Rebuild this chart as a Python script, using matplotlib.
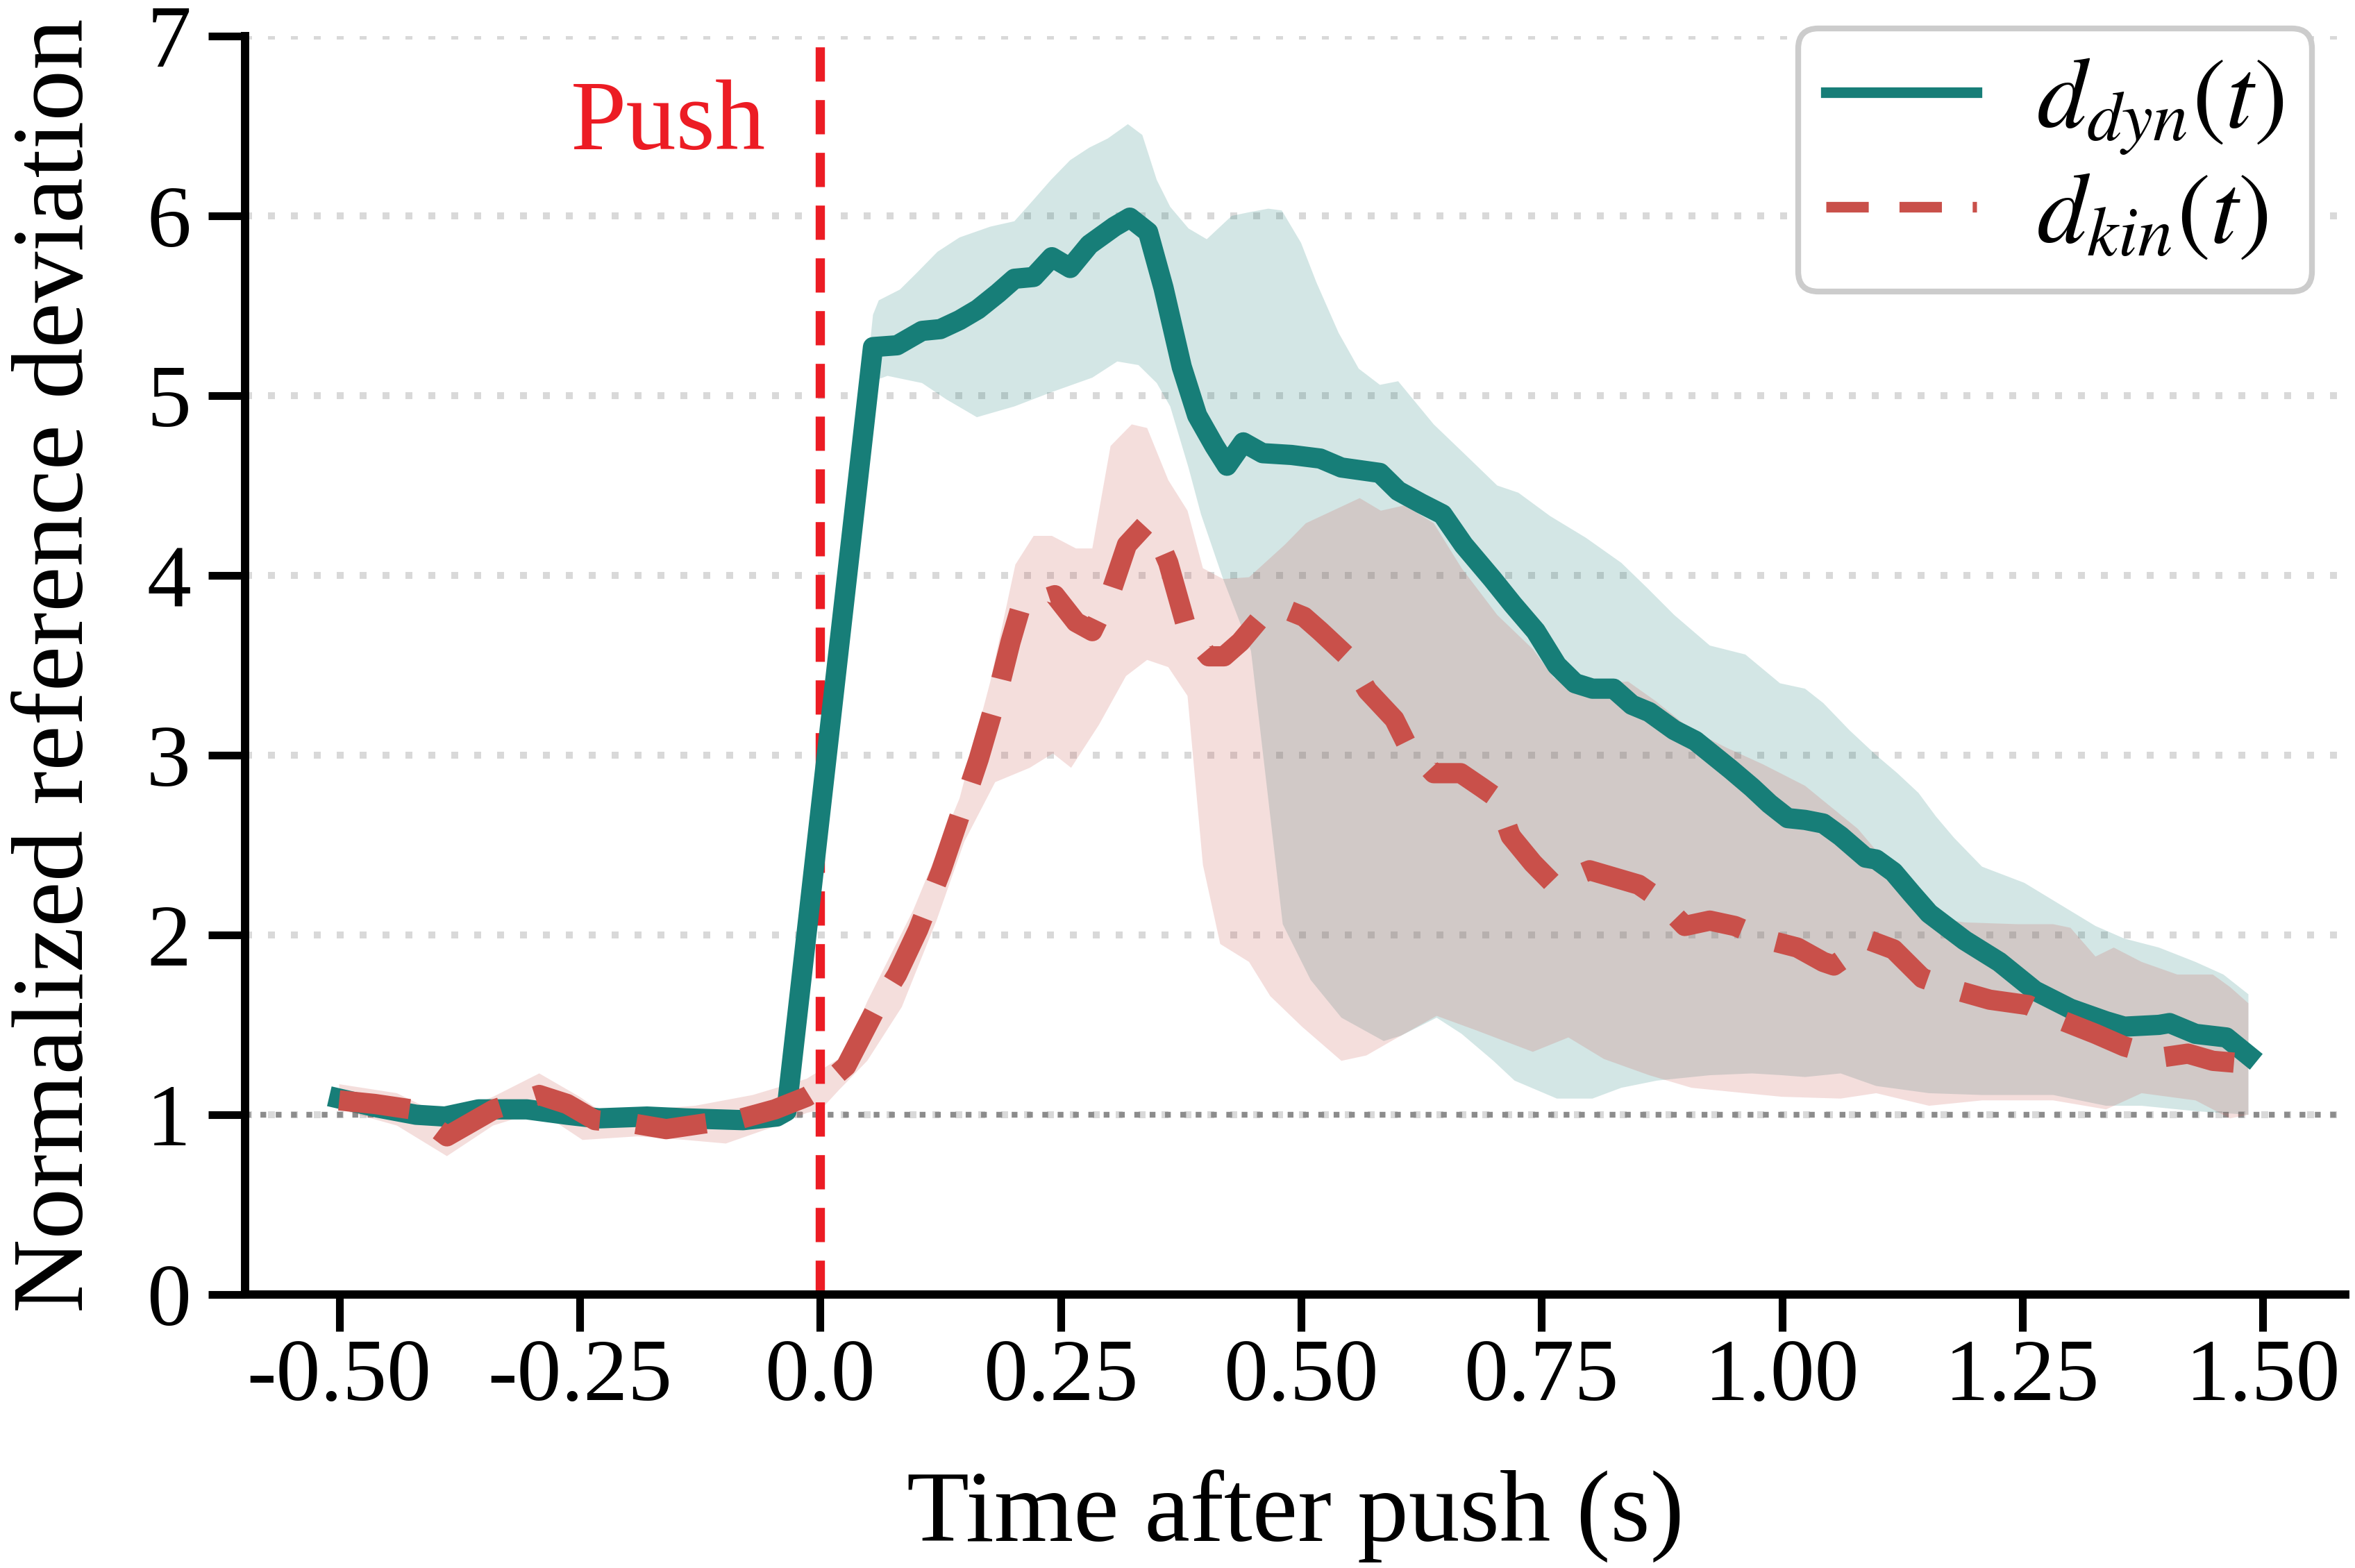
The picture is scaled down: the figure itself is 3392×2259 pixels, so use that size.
import numpy as np
import matplotlib
matplotlib.use('Agg')
import matplotlib.pyplot as plt
from matplotlib.lines import Line2D

plt.rcParams['font.family'] = 'Liberation Serif'
plt.rcParams['mathtext.fontset'] = 'stix'

# d_dyn(t): mean and band edges
t_dyn = [-0.50, -0.46, -0.42, -0.39, -0.355, -0.305, -0.263, -0.23, -0.18, -0.14, -0.08, -0.045, -0.035,
         0.055, 0.08, 0.106, 0.125, 0.145, 0.164, 0.185, 0.202, 0.222, 0.241, 0.26, 0.28, 0.306, 0.322,
         0.341, 0.357, 0.376, 0.392, 0.41, 0.423, 0.44, 0.46, 0.49, 0.52, 0.542, 0.582, 0.601, 0.625,
         0.647, 0.669, 0.699, 0.72, 0.744, 0.766, 0.785, 0.803, 0.825, 0.844, 0.862, 0.888, 0.91, 0.947,
         0.969, 0.987, 1.006, 1.024, 1.043, 1.061, 1.087, 1.098, 1.116, 1.135, 1.153, 1.19, 1.226, 1.263,
         1.30, 1.337, 1.356, 1.392, 1.403, 1.43, 1.462, 1.485]
dyn_mean = [1.09, 1.04, 1.00, 0.99, 1.03, 1.03, 1.00, 0.98, 0.99, 0.98, 0.97, 0.99, 1.02,
            5.27, 5.28, 5.36, 5.37, 5.42, 5.48, 5.57, 5.65, 5.66, 5.77, 5.71, 5.84, 5.94, 5.99,
            5.91, 5.60, 5.16, 4.89, 4.72, 4.61, 4.74, 4.68, 4.67, 4.65, 4.60, 4.57, 4.47, 4.40,
            4.34, 4.17, 3.98, 3.84, 3.69, 3.50, 3.40, 3.37, 3.37, 3.28, 3.24, 3.14, 3.08, 2.92,
            2.82, 2.73, 2.65, 2.64, 2.62, 2.55, 2.43, 2.42, 2.35, 2.23, 2.12, 1.97, 1.85, 1.69,
            1.59, 1.52, 1.49, 1.50, 1.51, 1.45, 1.43, 1.33]

t_dyn_hi = [-0.50, -0.45, -0.40, -0.35, -0.30, -0.25, -0.20, -0.15, -0.10, -0.04, -0.03, 0.055, 0.061,
            0.083, 0.10, 0.122, 0.145, 0.177, 0.202, 0.222, 0.24, 0.26, 0.28, 0.299, 0.32, 0.335, 0.35,
            0.364, 0.383, 0.402, 0.428, 0.446, 0.466, 0.48, 0.50, 0.516, 0.539, 0.56, 0.582, 0.601,
            0.638, 0.675, 0.704, 0.726, 0.759, 0.796, 0.833, 0.86, 0.888, 0.925, 0.962, 0.998, 1.024,
            1.043, 1.07, 1.098, 1.12, 1.142, 1.16, 1.179, 1.208, 1.252, 1.289, 1.326, 1.356, 1.392,
            1.43, 1.459, 1.485]
dyn_hi = [1.12, 1.07, 1.03, 1.06, 1.06, 1.03, 1.02, 1.01, 1.00, 1.02, 1.05, 5.45, 5.53,
          5.59, 5.68, 5.80, 5.88, 5.94, 5.97, 6.09, 6.20, 6.31, 6.38, 6.43, 6.51, 6.45, 6.20,
          6.05, 5.93, 5.87, 6.00, 6.02, 6.04, 6.03, 5.85, 5.63, 5.35, 5.15, 5.06, 5.08,
          4.84, 4.65, 4.50, 4.46, 4.33, 4.21, 4.07, 3.93, 3.78, 3.61, 3.56, 3.40, 3.37,
          3.29, 3.14, 3.00, 2.90, 2.79, 2.66, 2.54, 2.38, 2.29, 2.17, 2.05, 1.98, 1.93,
          1.85, 1.78, 1.67]

t_dyn_lo = [-0.50, -0.45, -0.40, -0.35, -0.30, -0.25, -0.20, -0.15, -0.10, -0.04, -0.03, 0.055, 0.07,
            0.106, 0.131, 0.163, 0.202, 0.241, 0.283, 0.309, 0.331, 0.35, 0.364, 0.383, 0.396, 0.419,
            0.448, 0.465, 0.481, 0.51, 0.542, 0.586, 0.604, 0.641, 0.667, 0.70, 0.722, 0.766, 0.803,
            0.833, 0.87, 0.925, 0.969, 1.0, 1.024, 1.061, 1.098, 1.153, 1.208, 1.282, 1.337, 1.374,
            1.43, 1.485]
dyn_lo = [1.05, 1.00, 0.96, 1.00, 1.00, 0.97, 0.96, 0.95, 0.94, 0.96, 0.99, 5.08, 5.11,
          5.07, 4.98, 4.88, 4.94, 5.02, 5.10, 5.19, 5.17, 5.07, 4.94, 4.60, 4.34, 3.98,
          3.58, 2.80, 2.06, 1.75, 1.54, 1.41, 1.44, 1.54, 1.45, 1.30, 1.19, 1.09, 1.09,
          1.15, 1.19, 1.22, 1.23, 1.22, 1.21, 1.23, 1.16, 1.12, 1.11, 1.11, 1.05, 1.05,
          1.02, 1.00]

# d_kin(t): mean and band edges
t_kin = [-0.50, -0.463, -0.425, -0.388, -0.339, -0.292, -0.263, -0.234, -0.193, -0.16, -0.122, -0.081,
         -0.047, -0.014, 0.001, 0.027, 0.056, 0.080, 0.102, 0.126, 0.145, 0.165, 0.184, 0.198, 0.21,
         0.227, 0.244, 0.266, 0.283, 0.302, 0.319, 0.338, 0.35, 0.362, 0.382, 0.404, 0.42, 0.437,
         0.459, 0.48, 0.503, 0.52, 0.548, 0.569, 0.597, 0.61, 0.638, 0.666, 0.688, 0.704, 0.718,
         0.741, 0.763, 0.80, 0.851, 0.87, 0.899, 0.925, 0.951, 0.987, 1.016, 1.043, 1.054, 1.091,
         1.116, 1.146, 1.183, 1.216, 1.256, 1.293, 1.326, 1.356, 1.396, 1.422, 1.448, 1.47]
kin_mean = [1.08, 1.06, 1.03, 0.88, 1.03, 1.11, 1.06, 0.97, 0.95, 0.92, 0.95, 0.98,
            1.03, 1.10, 1.15, 1.27, 1.57, 1.78, 2.03, 2.36, 2.66, 2.98, 3.33, 3.63, 3.85,
            3.86, 3.89, 3.74, 3.69, 3.90, 4.17, 4.28, 4.22, 4.07, 3.69, 3.55, 3.55, 3.63,
            3.77, 3.82, 3.77, 3.69, 3.55, 3.36, 3.20, 3.06, 2.90, 2.90, 2.82, 2.76, 2.55,
            2.40, 2.28, 2.36, 2.28, 2.21, 2.05, 2.08, 2.05, 1.97, 1.93, 1.85, 1.83, 1.97,
            1.92, 1.76, 1.69, 1.64, 1.61, 1.52, 1.45, 1.38, 1.32, 1.34, 1.30, 1.29]

t_kin_hi = [-0.50, -0.44, -0.39, -0.34, -0.292, -0.25, -0.22, -0.18, -0.13, -0.07, -0.014, 0.025, 0.049,
            0.097, 0.145, 0.177, 0.203, 0.222, 0.241, 0.266, 0.283, 0.302, 0.324, 0.340, 0.362, 0.382,
            0.398, 0.419, 0.446, 0.483, 0.505, 0.561, 0.583, 0.608, 0.638, 0.667, 0.704, 0.741, 0.763,
            0.778, 0.815, 0.84, 0.869, 0.906, 0.943, 0.980, 1.024, 1.079, 1.098, 1.153, 1.19, 1.245,
            1.282, 1.30, 1.326, 1.345, 1.374, 1.411, 1.448, 1.466, 1.485]
kin_hi = [1.17, 1.12, 0.99, 1.10, 1.23, 1.10, 0.99, 1.03, 1.05, 1.11, 1.20, 1.33, 1.63,
          2.14, 2.76, 3.41, 4.06, 4.22, 4.22, 4.15, 4.15, 4.72, 4.84, 4.82, 4.53, 4.36,
          4.04, 3.98, 3.99, 4.17, 4.29, 4.43, 4.36, 4.39, 4.29, 4.04, 3.78, 3.59, 3.43,
          3.40, 3.40, 3.41, 3.30, 3.14, 3.04, 2.95, 2.83, 2.59, 2.47, 2.10, 2.07, 2.06,
          2.06, 2.04, 1.88, 1.93, 1.85, 1.78, 1.78, 1.71, 1.62]

t_kin_lo = [-0.50, -0.44, -0.388, -0.34, -0.292, -0.247, -0.19, -0.14, -0.098, -0.05, -0.014, 0.001, 0.020,
            0.049, 0.085, 0.121, 0.150, 0.182, 0.218, 0.242, 0.261, 0.29, 0.318, 0.34, 0.362, 0.382,
            0.398, 0.416, 0.446, 0.468, 0.501, 0.542, 0.568, 0.594, 0.641, 0.682, 0.741, 0.778, 0.815,
            0.862, 0.906, 0.962, 1.0, 1.061, 1.098, 1.153, 1.208, 1.282, 1.337, 1.374, 1.43, 1.466,
            1.485]
kin_lo = [1.03, 0.94, 0.77, 0.94, 1.02, 0.86, 0.88, 0.86, 0.84, 0.93, 1.01, 1.03, 1.14,
          1.30, 1.60, 2.08, 2.52, 2.85, 2.93, 3.01, 2.93, 3.17, 3.44, 3.53, 3.49, 3.33,
          2.39, 1.95, 1.85, 1.66, 1.49, 1.30, 1.33, 1.41, 1.55, 1.47, 1.35, 1.43, 1.31,
          1.22, 1.15, 1.12, 1.10, 1.09, 1.12, 1.05, 1.08, 1.08, 1.03, 1.12, 1.08, 0.98,
          1.00]

x_ticks = [-0.5, -0.25, 0.0, 0.25, 0.5, 0.75, 1.0, 1.25, 1.5]
x_labels = ['-0.50', '-0.25', '0.0', '0.25', '0.50', '0.75', '1.00', '1.25', '1.50']
y_ticks = [0, 1, 2, 3, 4, 5, 6, 7]

teal = '#177e78'
red = '#c9504a'
push_red = '#ec1c24'

fig = plt.figure(figsize=(16.96, 11.295), dpi=200)
ax = fig.add_axes([0.104, 0.1744, 0.892, 0.8026])

# bands (drawn as polygons: upper edge then lower edge reversed)
ax.fill(np.r_[t_dyn_hi, t_dyn_lo[::-1]], np.r_[dyn_hi, dyn_lo[::-1]],
        color=teal, alpha=0.19, lw=0, zorder=2)
ax.fill(np.r_[t_kin_hi, t_kin_lo[::-1]], np.r_[kin_hi, kin_lo[::-1]],
        color=red, alpha=0.19, lw=0, zorder=2)

ax.axvline(0, color=push_red, lw=4.8, dashes=(3.7, 2.0), zorder=2.5)
ax.axhline(1, color='#8c8c8c', lw=3, ls=':', zorder=1.5)

ax.plot(t_dyn, dyn_mean, color=teal, lw=10.5, zorder=3)
ax.plot(t_kin, kin_mean, color=red, lw=10.5, dashes=(3.5, 1.8), zorder=3.5)

ax.text(-0.158, 6.37, 'Push', color=push_red, fontsize=52, ha='center', va='baseline')

ax.set_xlim(-0.598, 1.586)
ax.set_ylim(0, 7)
ax.set_xticks(x_ticks)
ax.set_xticklabels(x_labels)
ax.set_yticks(y_ticks)

ax.grid(axis='y', color='#d9d9d9', lw=3.6, linestyle=(0, (1, 2.3)))
ax.set_axisbelow(True)

for s in ['top', 'right']:
    ax.spines[s].set_visible(False)
for s in ['left', 'bottom']:
    ax.spines[s].set_linewidth(4.3)

ax.tick_params(axis='both', length=19, width=4, labelsize=46)
ax.tick_params(axis='x', pad=4)
ax.tick_params(axis='y', pad=9)

ax.set_xlabel('Time after push (s)', fontsize=53, labelpad=26)
ax.set_ylabel('Normalized reference deviation', fontsize=53, labelpad=22)

handles = [Line2D([], [], color=teal, lw=5.5),
           Line2D([], [], color=red, lw=5.5, dashes=(4, 2.9))]
leg = ax.legend(handles, [r'$d_{dyn}(t)\,$', r'$d_{kin}(t)\,$'], loc='upper right',
                bbox_to_anchor=(0.984, 1.006), borderaxespad=0, fontsize=52,
                handlelength=1.5, handletextpad=0.6, labelspacing=0.15, borderpad=0.28,
                fancybox=True, framealpha=1, edgecolor='#cccccc')
leg.get_frame().set_linewidth(3)

fig.savefig('out.png', dpi=200)
